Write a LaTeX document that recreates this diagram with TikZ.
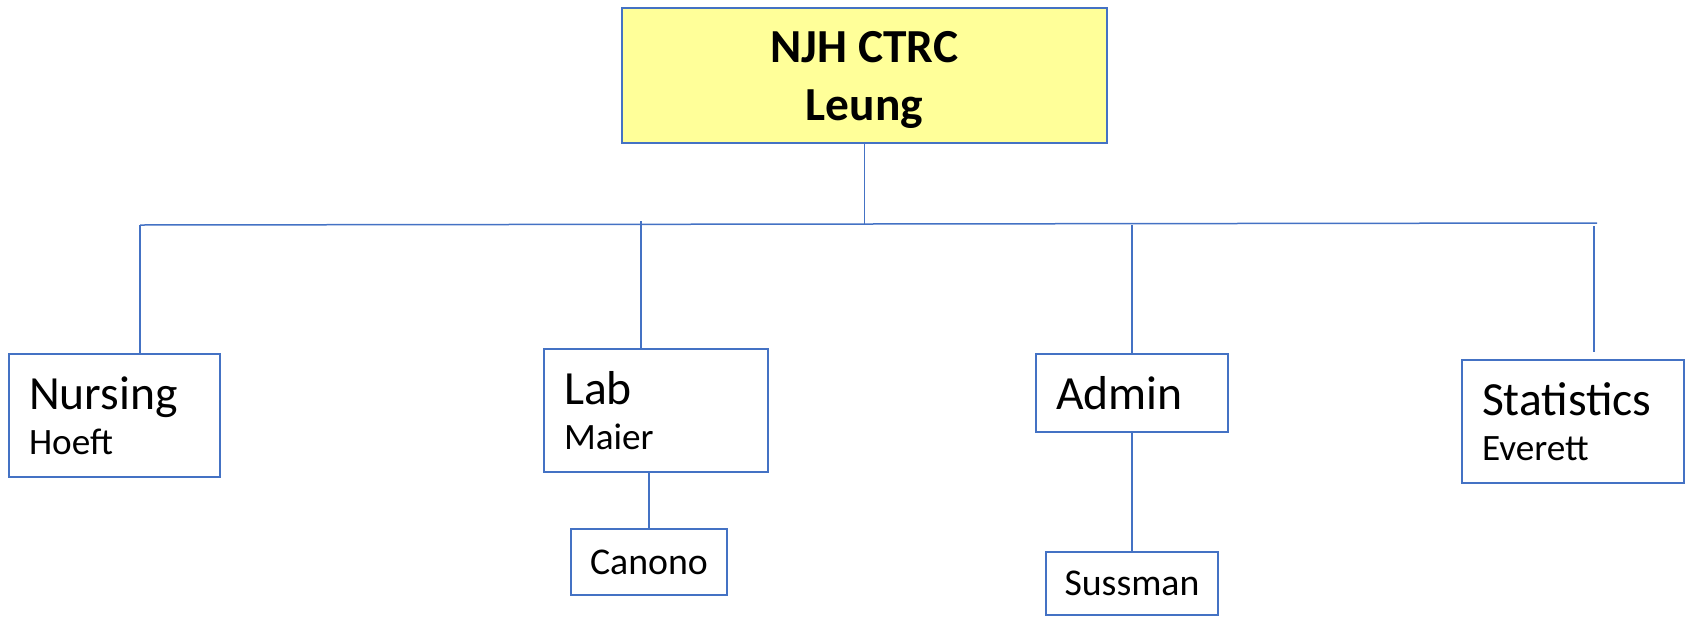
\documentclass[tikz,border=0pt]{standalone}
\usepackage{fontspec}
\setmainfont{Carlito}
\definecolor{ctrcblue}{RGB}{68,114,196}
\definecolor{ctrcyellow}{RGB}{255,255,153}

\begin{document}
\begin{tikzpicture}[
  x=0.5pt, y=-0.5pt,
  every node/.style={inner sep=0pt}
]
\tikzstyle{head}=[rectangle, draw=ctrcblue, line width=1pt, fill=ctrcyellow, minimum width=242.5pt, minimum height=67.5pt, align=center, text depth=0pt, font=\bfseries\fontsize{23.7}{29}\selectfont]
\tikzstyle{unit}=[rectangle, draw=ctrcblue, line width=1pt, inner xsep=10pt, align=left, minimum height=61.5pt, font=\fontsize{18.6}{22.5}\selectfont]
\tikzstyle{sub}=[rectangle, draw=ctrcblue, line width=1pt, align=center, font=\fontsize{18.9}{22}\selectfont]
\tikzstyle{link}=[draw=ctrcblue, line width=0.75pt]

\useasboundingbox (0,0) rectangle (1689,616);

\node[head] (ctrc) at (864.5,75.5) {NJH CTRC\\Leung};

\node[unit, text width=85.5pt] (nursing) at (114.5,415.5)
  {\fontsize{23.8}{22.5}\selectfont Nursing\\\fontsize{18.6}{22.5}\selectfont Hoeft};
\node[unit, text width=92pt] (lab) at (656,410.5)
  {\fontsize{23.8}{22.5}\selectfont Lab\\\fontsize{18.6}{22.5}\selectfont Maier};
\node[unit, text width=76pt, minimum height=39pt] (admin) at (1132,393)
  {\fontsize{23.8}{22.5}\selectfont Admin};
\node[unit, text width=91pt] (statistics) at (1573,421.5)
  {\fontsize{23.8}{22.5}\selectfont Statistics\\\fontsize{18.6}{22.5}\selectfont Everett};

\node[sub, minimum width=78pt, minimum height=33pt] (canono) at (649,562) {Canono};
\node[sub, minimum width=86pt, minimum height=31.5pt] (sussman) at (1132,583) {Sussman};

% the bus under the head box
\coordinate (bus west) at (140,225);
\coordinate (bus east) at (1597,223);
\coordinate (lab top) at (641,221);
\coordinate (stats top) at (1594,226);

\draw[link] (bus west) -- (bus east);
\draw[link] (ctrc.south) -- (ctrc.south |- bus west);
\draw[link] (bus west) -- (bus west |- nursing.north);
\draw[link] (lab top) -- (lab top |- lab.north);
\draw[link] (admin.north) -- (admin.north |- bus west);
\draw[link, shorten >=3.5pt] (stats top) -- (stats top |- statistics.north);

% second level
\draw[link] (lab.south -| canono.north) -- (canono.north);
\draw[link] (admin.south) -- (sussman.north);
\end{tikzpicture}
\end{document}
